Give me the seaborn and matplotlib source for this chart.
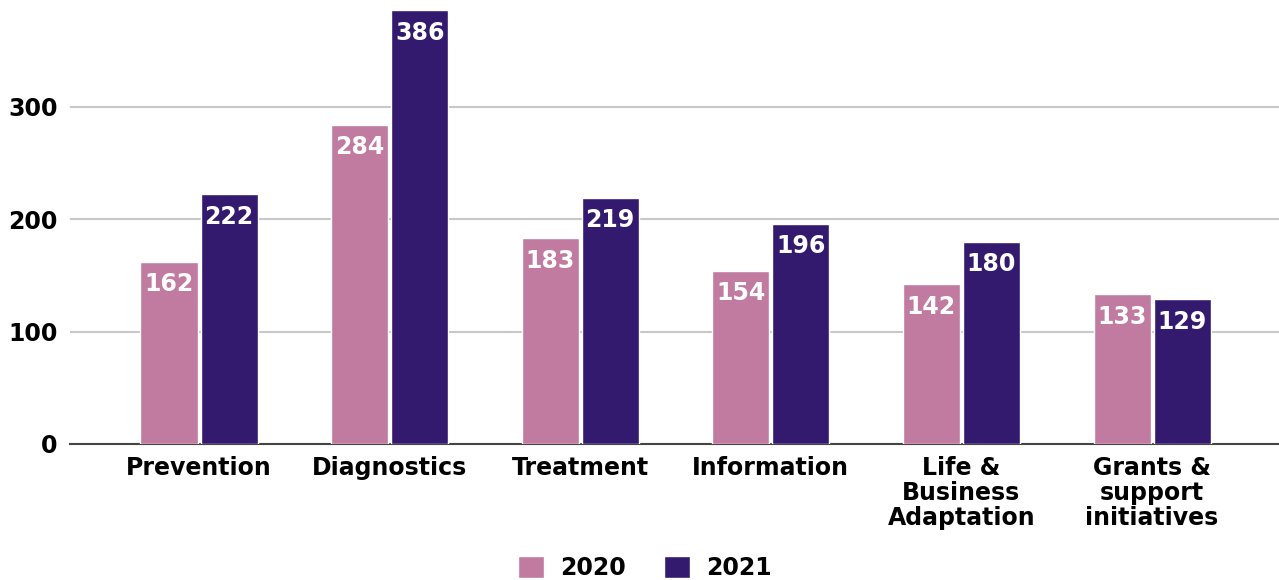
import pandas as pd
import matplotlib.pyplot as plt
import seaborn as sns

# data
categories = ["Prevention", "Diagnostics", "Treatment", "Information",
              "Life &\nBusiness\nAdaptation", "Grants &\nsupport\ninitiatives"]
values_2020 = [162, 284, 183, 154, 142, 133]
values_2021 = [222, 386, 219, 196, 180, 129]
years = ["2020", "2021"]
colors = ["#C27BA0", "#331A6E"]

df = pd.DataFrame({
    "category": categories * 2,
    "year": [years[0]] * len(categories) + [years[1]] * len(categories),
    "value": values_2020 + values_2021,
})

sns.set_style("white")
plt.rcParams['font.family'] = ['DejaVu Sans']
plt.rcParams['text.color'] = 'black'

fig = plt.figure(figsize=(12.79, 5.8), dpi=100)
ax = fig.add_axes([0.0547, 0.2345, 0.9453, 0.7655])

sns.barplot(data=df, x="category", y="value", hue="year", order=categories,
            hue_order=years, palette=colors, width=0.63, gap=0.05,
            saturation=1, ax=ax, zorder=3)

# value labels inside bars
for cont in ax.containers:
    ax.bar_label(cont, labels=[f"{int(v)}" for v in cont.datavalues],
                 padding=-25, color="white", fontsize=17, fontweight="bold")

ax.set_ylim(0, 394.7)
ax.set_xlim(-0.677, 5.666)
ax.set_yticks([0, 100, 200, 300])
ax.yaxis.grid(True, color="#C8C8C8", linewidth=1.5, zorder=0)
ax.set_xlabel("")
ax.set_ylabel("")
for s in ["top", "right", "left"]:
    ax.spines[s].set_visible(False)
ax.spines["bottom"].set_color("#444444")
ax.spines["bottom"].set_linewidth(1.5)
ax.tick_params(axis="both", length=0, labelsize=17, labelcolor="black")
ax.tick_params(axis="x", pad=9)
ax.tick_params(axis="y", pad=9)
for lab in ax.get_xticklabels() + ax.get_yticklabels():
    lab.set_fontweight("bold")
    lab.set_linespacing(1.05)

ax.get_legend().remove()
handles, labels = ax.get_legend_handles_labels()
fig.legend(handles, labels, loc="center", bbox_to_anchor=(645 / 1279, 12 / 580),
           ncol=2, frameon=False, handlelength=1.1, handleheight=1.1,
           handletextpad=0.7, columnspacing=1.6,
           prop={"size": 17, "weight": "bold"})

fig.savefig("out.png", dpi=100)
